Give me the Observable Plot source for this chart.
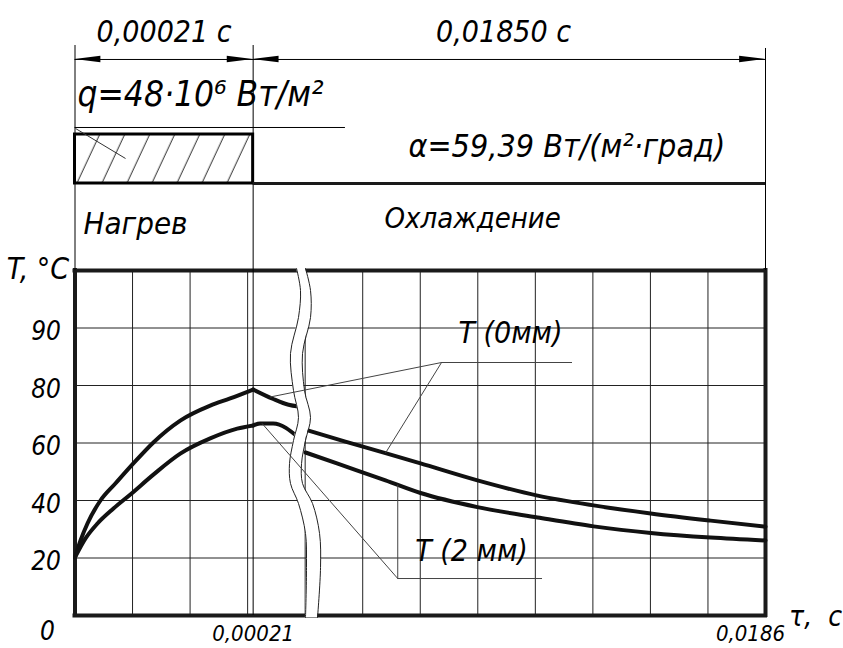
<!DOCTYPE html>
<html><head><meta charset="utf-8">
<script src="https://cdn.jsdelivr.net/npm/d3@7"></script>
<script src="https://cdn.jsdelivr.net/npm/@observablehq/plot@0.6"></script>
<style>
body{margin:0;background:#fff;}
#chart{width:843px;height:648px;}
</style></head><body><div id="chart"></div>
<script>
// ---------------- DATA ----------------
// T (0 мм): heating stage and cooling stage (NaN = axis break)
const heatTime0mm = [0, 0.0000065, 0.0000147, 0.00003, 0.0000476, 0.0000688, 0.0000924, 0.0001241, 0.0001594, 0.0001829, 0.00021];
const heatTemp0mm = [20.2, 26.1, 32.0, 40.0, 45.9, 52.9, 60.2, 67.8, 73.0, 75.5, 78.6];
const coolTime0mm = [0.00021, 0.00091, 0.00148, 0.00184, 0.002, 0.0022, 0.00352, 0.00496, 0.00622, 0.00826, 0.01042, 0.01243, 0.01448, 0.01663, 0.0186];
const coolTemp0mm = [78.6, 75.4, 73.3, 72.7, NaN, 64.3, 60.5, 56.5, 52.9, 47.0, 41.7, 38.3, 35.5, 33.0, 30.9];
// T (2 мм)
const heatTime2mm = [0, 0.0000124, 0.0000265, 0.0000453, 0.0000653, 0.0000924, 0.0001241, 0.0001594, 0.0001912, 0.00021];
const heatTemp2mm = [20.2, 26.8, 32.0, 37.2, 42.1, 49.0, 56.3, 61.6, 65.0, 66.1];
const coolTime2mm = [0.00021, 0.00046, 0.00093, 0.00184, 0.00197, 0.00209, 0.00327, 0.00496, 0.00622, 0.00826, 0.01042, 0.01243, 0.01448, 0.01663, 0.0186];
const coolTemp2mm = [66.1, 66.8, 66.8, 61.9, NaN, 56.7, 52.7, 47.0, 42.6, 37.7, 34.1, 31.0, 28.7, 27.1, 26.1];

// axis tick values / labels
const yTickValues = [20, 40, 60, 80, 90];
const xTickValues = [0.00021, 0.0186];
const xTickLabels = ["0,00021", "0,0186"];

// header texts
const heatDuration = "0,00021 с";
const coolDuration = "0,01850 с";
const heatFluxLabel = "q=48·10⁶ Вт/м²";
const alphaLabel = "α=59,39 Вт/(м²·град)";
const stageLabels = ["Нагрев", "Охлаждение"];
const seriesLabels = ["T (0мм)", "T (2 мм)"];
// leader targets on the curves [time, temperature]
const leaders0mm = [[0.00082, 76.0], [0.00496, 56.5]];
const leaders2mm = [[0.00053, 66.8], [0.0054, 45.5]];

// axis-break outline (drawing grid units: row, left col, right col)
const breakRow  = [6.035, 5.652, 5.183, 4.557, 3.913, 3.443, 3.043, 2.643, 2.296, 1.948, 1.426, 0.835, -0.035];
const breakLeft = [3.850, 3.919, 3.884, 3.745, 3.797, 3.884, 3.797, 3.728, 3.745, 3.884, 4.006, 4.023, 4.006];
const breakRight= [4.006, 4.093, 4.093, 3.954, 3.989, 4.093, 4.006, 3.937, 3.954, 4.128, 4.250, 4.267, 4.215];

// ---------------- MAPPINGS (broken axes onto drawing grid) ----------------
const tEnd = 0.00021;
const tToCol = d3.scaleLinear().domain([0, tEnd, 0.0186]).range([0, 3.096, 12]);
const tempToRow = d3.scaleLinear().domain([0, 80, 90, 100]).range([0, 4, 5, 6]);

function segRows(key, times, temps) {
  return times.map((t, i) => ({key, t, T: temps[i]}));
}
const curveRows = [
  ...segRows("h0", heatTime0mm, heatTemp0mm),
  ...segRows("c0", coolTime0mm, coolTemp0mm),
  ...segRows("h2", heatTime2mm, heatTemp2mm),
  ...segRows("c2", coolTime2mm, coolTemp2mm)
];
const band = breakRow.map((r, i) => ({r, l: breakLeft[i], rr: breakRight[i]}));

// layout (drawing grid units)
const L = {
  dimRow: 9.67, dimText: 10.14, topV: 9.913, topVr: 9.861,
  qRow: 9.06, qLine: 8.487, qLineEnd: 4.70,
  rectTop: 8.365, rectBot: 7.513, alphaRow: 8.148, alphaCol: 5.796,
  stageRow: [6.80, 6.896], stageCol: [0.148, 5.379],
  arrowLen: 0.45, arrowH: 0.055,
  lab0: [7.568, 4.904], under0: [6.37, 4.40, 8.646],
  lab2: [6.891, 1.113], under2row: 0.643, under2End: 8.125
};
const tc = tToCol(tEnd);
const arrowDefs = [{tip: 0, dir: 1}, {tip: tc, dir: -1}, {tip: tc, dir: 1}, {tip: 12, dir: -1}];
const arrowRows = arrowDefs.flatMap((a, i) => [
  {id: i, x: a.tip, y1: L.dimRow, y2: L.dimRow},
  {id: i, x: a.tip + a.dir * L.arrowLen, y1: L.dimRow - L.arrowH, y2: L.dimRow + L.arrowH}
]);
const u2start = tToCol(leaders2mm[1][0]);
const leaderLinks = [
  ...leaders0mm.map(([t, T]) => ({x1: L.under0[0], y1: L.under0[1], x2: tToCol(t), y2: tempToRow(T)})),
  ...leaders2mm.map(([t, T]) => ({x1: u2start, y1: L.under2row, x2: tToCol(t), y2: tempToRow(T)}))
];

const F = {fontStyle: "italic", fill: "black", lineAnchor: "middle"};

const svg = Plot.plot({
  width: 843, height: 648, margin: 0,
  x: {domain: [0, 12], range: [74.5, 765], axis: null},
  y: {domain: [0, 6], range: [615, 270], axis: null},
  style: {fontFamily: "'DejaVu Sans Condensed', 'DejaVu Sans', sans-serif", background: "white", overflow: "visible"},
  marks: [
    // grid
    Plot.ruleX(d3.range(1, 12), {y1: 0, y2: 6, stroke: "#222", strokeWidth: 1}),
    Plot.ruleY(d3.range(1, 6), {x1: 0, x2: 12, stroke: "#222", strokeWidth: 1}),
    // frame
    Plot.ruleY([0, 6], {x1: 0, x2: 12, stroke: "#1a1a1a", strokeWidth: 4, strokeLinecap: "square"}),
    Plot.ruleX([0, 12], {y1: 0, y2: 6, stroke: "#1a1a1a", strokeWidth: 4, strokeLinecap: "square"}),
    // vertical extension lines
    Plot.ruleX([0], {y1: 6, y2: L.topV, stroke: "black", strokeWidth: 1}),
    Plot.ruleX([tc], {y1: 0, y2: L.topV, stroke: "black", strokeWidth: 1}),
    Plot.ruleX([12], {y1: 6, y2: L.topVr, stroke: "black", strokeWidth: 1}),
    // dimension line + arrows
    Plot.ruleY([L.dimRow], {x1: 0, x2: 12, stroke: "black", strokeWidth: 1}),
    Plot.areaY(arrowRows, {x: "x", y1: "y1", y2: "y2", z: "id", fill: "black"}),
    Plot.text([heatDuration], {x: tc / 2, y: L.dimText, text: d => d, fontSize: 30, ...F}),
    Plot.text([coolDuration], {x: (tc + 12) / 2 - 0.1, y: L.dimText, text: d => d, fontSize: 30, ...F}),
    // heat flux label + underline + hatched rectangle
    Plot.text([heatFluxLabel], {x: 0.043, y: L.qRow, text: d => d, fontSize: 35, textAnchor: "start", ...F}),
    Plot.ruleY([L.qLine], {x1: 0, x2: L.qLineEnd, stroke: "black", strokeWidth: 1}),
    Plot.rect([0], {x1: 0, x2: tc, y1: L.rectBot, y2: L.rectTop, fill: "url(#hatch)", stroke: "black", strokeWidth: 3}),
    Plot.link([0], {x1: 0.009, y1: 8.47, x2: 0.878, y2: 7.948, stroke: "#333", strokeWidth: 1}),
    Plot.ruleY([L.rectBot], {x1: tc, x2: 12, stroke: "#1a1a1a", strokeWidth: 3}),
    Plot.text([alphaLabel], {x: L.alphaCol, y: L.alphaRow, text: d => d, fontSize: 32, textAnchor: "start", ...F}),
    // stage labels
    Plot.text([stageLabels[0]], {x: L.stageCol[0], y: L.stageRow[0], text: d => d, fontSize: 31, textAnchor: "start", ...F}),
    Plot.text([stageLabels[1]], {x: L.stageCol[1], y: L.stageRow[1], text: d => d, fontSize: 29, textAnchor: "start", ...F}),
    // curves
    Plot.line(curveRows, {x: d => tToCol(d.t), y: d => tempToRow(d.T), z: "key", curve: "monotone-x", stroke: "#111", strokeWidth: 4, strokeLinejoin: "round"}),
    // axis break
    Plot.areaX(band, {y: "r", x1: "l", x2: "rr", fill: "white", curve: "catmull-rom"}),
    Plot.line(band, {y: "r", x: "l", curve: "catmull-rom", stroke: "#222", strokeWidth: 1}),
    Plot.line(band, {y: "r", x: "rr", curve: "catmull-rom", stroke: "#222", strokeWidth: 1}),
    // leaders and series labels
    Plot.link(leaderLinks, {x1: "x1", y1: "y1", x2: "x2", y2: "y2", stroke: "#444", strokeWidth: 1}),
    Plot.ruleY([L.under0[1]], {x1: L.under0[0], x2: L.under0[2], stroke: "#444", strokeWidth: 1}),
    Plot.ruleY([L.under2row], {x1: u2start, x2: L.under2End, stroke: "#444", strokeWidth: 1}),
    Plot.text([seriesLabels[0]], {x: L.lab0[0], y: L.lab0[1], text: d => d, fontSize: 30, ...F}),
    Plot.text([seriesLabels[1]], {x: L.lab2[0], y: L.lab2[1], text: d => d, fontSize: 30, ...F}),
    // y axis
    Plot.text(yTickValues, {x: 0, y: d => tempToRow(d), text: d => String(d), dx: -14, dy: 4, fontSize: 26, textAnchor: "end", ...F}),
    Plot.text(["0"], {x: 0, y: 0, text: d => d, dx: -20, dy: 16, fontSize: 26, textAnchor: "end", ...F}),
    Plot.text(["T, °C"], {x: 0, y: 6.017, text: d => d, dx: -37, fontSize: 30, ...F}),
    // x axis
    Plot.text([xTickValues[0]], {x: d => tToCol(d), y: 0, text: d => xTickLabels[0], dy: 18, fontSize: 22, ...F}),
    Plot.text([xTickValues[1]], {x: d => tToCol(d), y: 0, text: d => xTickLabels[1], dx: -15, dy: 18, fontSize: 22, ...F}),
    Plot.text(["τ,  с"], {x: 12, y: 0, text: d => d, dx: 50, dy: 2, fontSize: 28, ...F})
  ]
});

// hatch pattern for the heat-flux rectangle
const ns = "http://www.w3.org/2000/svg";
const defs = document.createElementNS(ns, "defs");
defs.innerHTML = '<pattern id="hatch" patternUnits="userSpaceOnUse" width="25" height="10" patternTransform="skewX(-25)"><line x1="12.3" y1="-5" x2="12.3" y2="15" stroke="#222" stroke-width="1"/></pattern>';
svg.insertBefore(defs, svg.firstChild);
document.getElementById("chart").appendChild(svg);
</script></body></html>
